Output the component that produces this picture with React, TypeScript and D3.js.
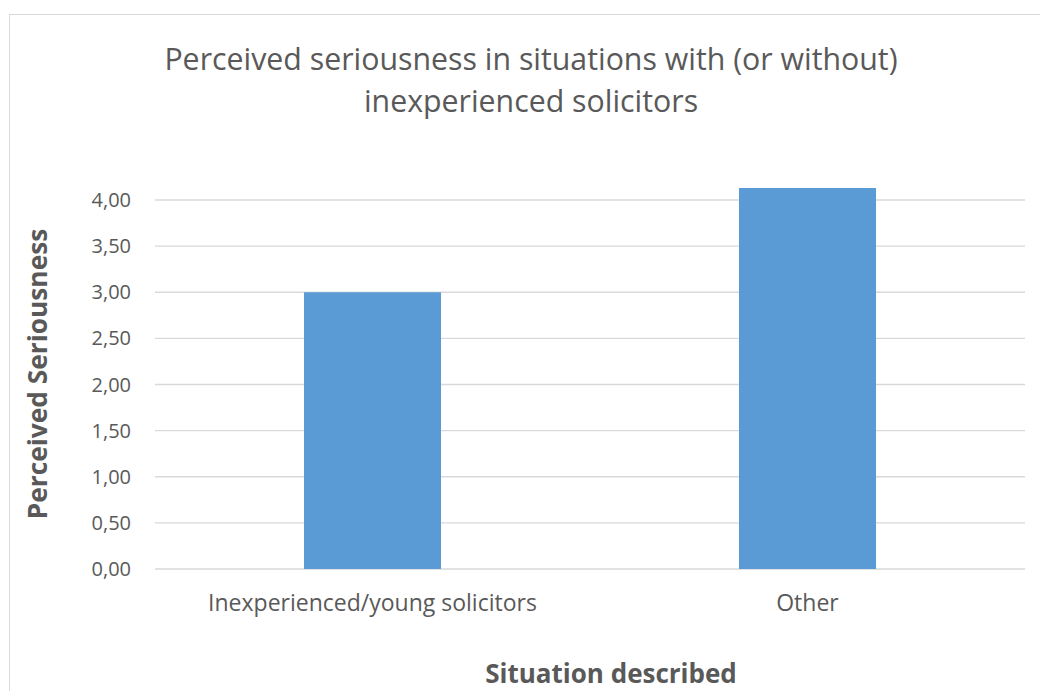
import React from "react";
import * as d3 from "d3";

const categories = ["Inexperienced/young solicitors", "Other"];
const values = [3.0, 4.13];
const yTicks = [0, 0.5, 1, 1.5, 2, 2.5, 3, 3.5, 4];
const titleLines = ["Perceived seriousness in situations with (or without)", "inexperienced solicitors"];
const xTitle = "Situation described";
const yTitle = "Perceived Seriousness";

export default function App() {
  const W = 1040, H = 691;
  const left = 155, right = 1025, top = 200, bottom = 569;
  const y = d3.scaleLinear().domain([0, 4]).range([bottom, top]);
  const x = d3.scaleBand().domain(categories).range([left, right]).paddingInner(0.685).paddingOuter(0.3425);
  const font = "'Open Sans', sans-serif";
  const fmt = (v: number) => v.toFixed(2).replace(".", ",");
  return (
    <svg width={W} height={H} style={{ position: "absolute", left: 0, top: 0, background: "#fff" }} fontFamily={font}>
      <rect x={9.5} y={14.5} width={1100} height={800} fill="#fff" stroke="#d9d9d9" strokeWidth={1} />
      {titleLines.map((t, i) => (
        <text key={i} x={531} y={70 + i * 42} textAnchor="middle" fontSize={30.3} fill="#595959">{t}</text>
      ))}
      {yTicks.map((t) => (
        <g key={t}>
          <line x1={left} x2={right} y1={y(t)} y2={y(t)} stroke="#d9d9d9" strokeWidth={1.3} />
          <text x={131} y={y(t) + 7} textAnchor="end" fontSize={20} fill="#595959">{fmt(t)}</text>
        </g>
      ))}
      {categories.map((c, i) => (
        <g key={c}>
          <rect x={x(c)!} y={y(values[i])} width={x.bandwidth()} height={bottom - y(values[i])} fill="#5b9bd5" />
          <text x={x(c)! + x.bandwidth() / 2} y={611} textAnchor="middle" fontSize={23} fill="#595959">{c}</text>
        </g>
      ))}
      <text x={611} y={683} textAnchor="middle" fontSize={26} fontWeight="bold" fill="#595959">{xTitle}</text>
      <text transform={`translate(47,374) rotate(-90)`} textAnchor="middle" fontSize={26.3} fontWeight="bold" fill="#595959">{yTitle}</text>
    </svg>
  );
}
